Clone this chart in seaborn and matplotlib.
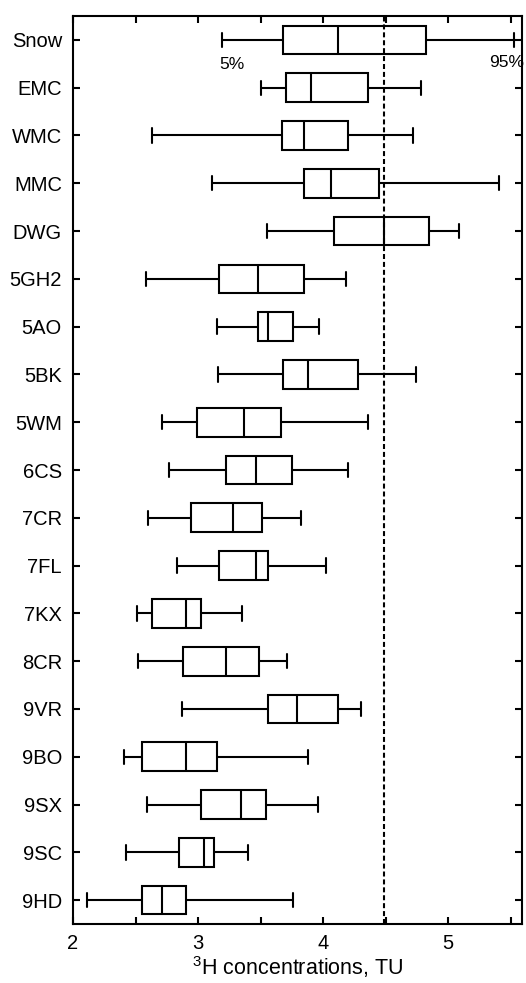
import matplotlib
matplotlib.use("Agg")
import matplotlib.pyplot as plt
import seaborn as sns
import pandas as pd
from matplotlib.ticker import MultipleLocator

sites = ["Snow", "EMC", "WMC", "MMC", "DWG", "5GH2", "5AO", "5BK", "5WM", "6CS",
         "7CR", "7FL", "7KX", "8CR", "9VR", "9BO", "9SX", "9SC", "9HD"]
p05 = [3.19, 3.50, 2.63, 3.11, 3.55, 2.58, 3.15, 3.16, 2.71, 2.77,
       2.60, 2.83, 2.51, 2.52, 2.87, 2.41, 2.59, 2.42, 2.11]
q1 = [3.68, 3.70, 3.67, 3.85, 4.09, 3.17, 3.48, 3.68, 2.99, 3.22,
      2.94, 3.17, 2.63, 2.88, 3.56, 2.55, 3.02, 2.85, 2.55]
med = [4.12, 3.90, 3.85, 4.06, 4.49, 3.48, 3.56, 3.88, 3.37, 3.46,
       3.28, 3.46, 2.90, 3.22, 3.79, 2.90, 3.34, 3.05, 2.71]
q3 = [4.82, 4.36, 4.20, 4.45, 4.85, 3.85, 3.76, 4.28, 3.66, 3.75,
      3.51, 3.56, 3.02, 3.49, 4.12, 3.15, 3.54, 3.13, 2.90]
p95 = [5.53, 4.78, 4.72, 5.41, 5.09, 4.18, 3.97, 4.74, 4.36, 4.20,
       3.82, 4.02, 3.35, 3.71, 4.30, 3.88, 3.96, 3.40, 3.76]
ref_line = 4.49

rows = []
for i, s in enumerate(sites):
    for v in (p05[i], q1[i], med[i], q3[i], p95[i]):
        rows.append({"site": s, "TU": v})
df = pd.DataFrame(rows)

sns.set_style("ticks")
plt.rcParams["font.family"] = ["Liberation Sans", "DejaVu Sans"]
plt.rcParams["mathtext.fontset"] = "custom"
plt.rcParams["mathtext.rm"] = "Liberation Sans"
for k in ("text.color", "axes.labelcolor", "xtick.color", "ytick.color", "axes.edgecolor"):
    plt.rcParams[k] = "black"

fig = plt.figure(figsize=(5.26, 9.83), dpi=100)
ax = fig.add_axes([0.1388, 0.06, 0.9924 - 0.1388, 0.9837 - 0.06])

sns.boxplot(data=df, x="TU", y="site", order=sites, orient="h", whis=(0, 100),
            width=0.6, color="white", linecolor="black", linewidth=1.5,
            showfliers=False, ax=ax)

ax.axvline(ref_line, color="black", lw=1.5, ls=(0, (2.4, 1.4)), zorder=5)

ax.text(3.17, 0.52, "5%", ha="left", va="center", fontsize=12.5)
ax.text(5.61, 0.47, "95%", ha="right", va="center", fontsize=12.5, clip_on=False)

ax.set_xlim(2, 5.59)
ax.set_ylim(18.5, -0.5)
ax.xaxis.set_major_locator(MultipleLocator(1))
ax.xaxis.set_minor_locator(MultipleLocator(0.5))
ax.tick_params(axis="both", which="both", direction="in", top=True, right=True,
               length=5, width=1.5, labelsize=14.5, colors="black")
ax.tick_params(axis="y", pad=8)
ax.tick_params(axis="x", pad=7)
for sp in ax.spines.values():
    sp.set_linewidth(1.5)
    sp.set_visible(True)
    sp.set_color("black")

ax.set_xlabel(r"$\mathregular{^3}$H concentrations, TU", fontsize=15.5, labelpad=1)
ax.set_ylabel("")

fig.savefig("out.png", dpi=100)
